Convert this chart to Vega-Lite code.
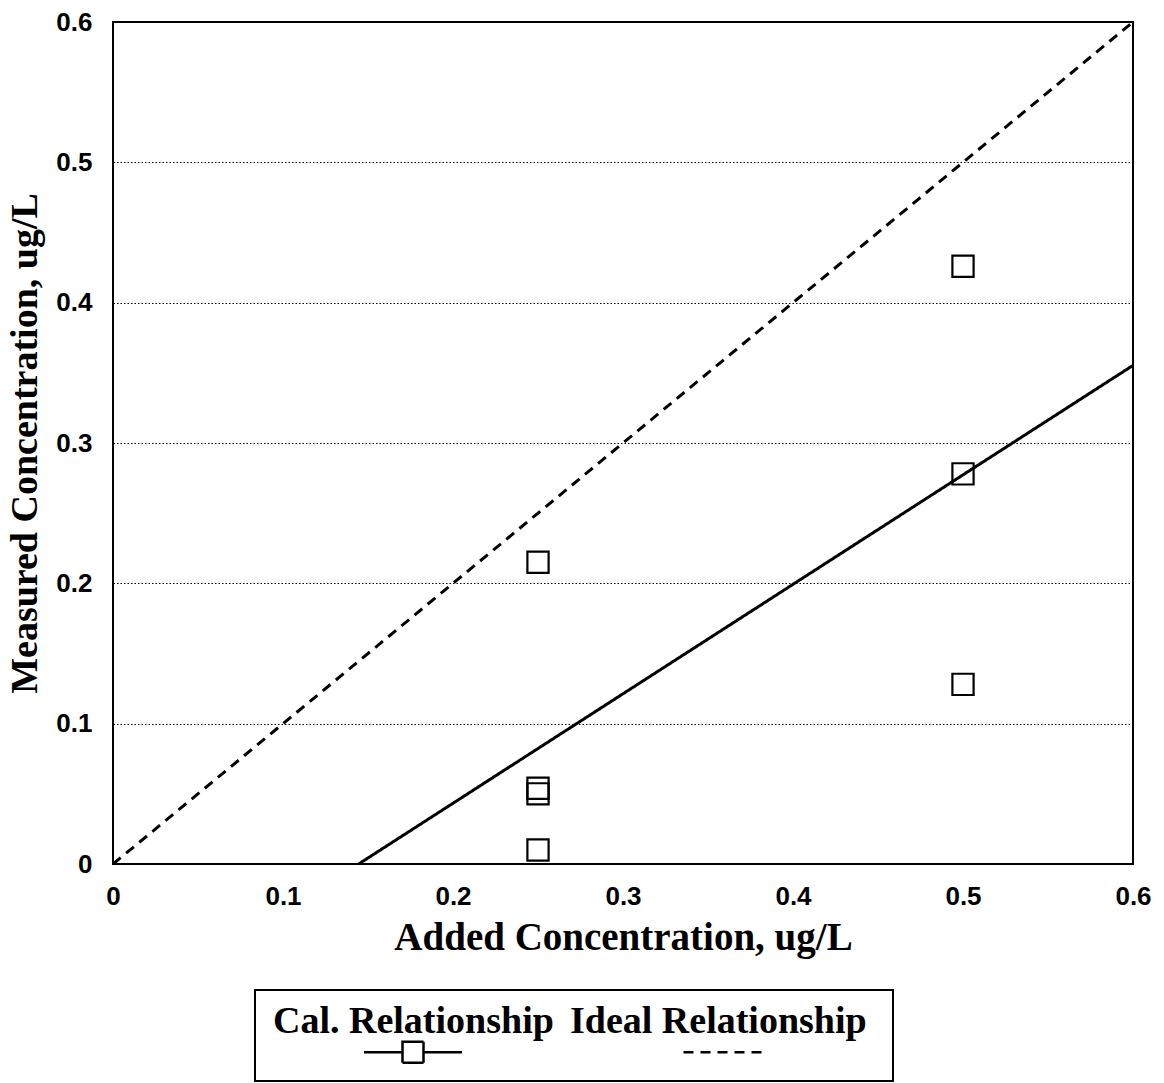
{
  "$schema": "https://vega.github.io/schema/vega-lite/v6.json",
  "width": 1020,
  "height": 842,
  "autosize": {"type": "none"},
  "padding": {"left": 113, "top": 22, "right": 31, "bottom": 219},
  "background": "white",
  "config": {
    "view": {"stroke": "black", "strokeWidth": 2},
    "axis": {
      "domain": false,
      "ticks": false,
      "labelFont": "Liberation Sans",
      "labelFontSize": 26,
      "labelFontWeight": "bold",
      "labelColor": "black",
      "labelFlush": false,
      "labelOverlap": false,
      "titleFont": "Liberation Serif",
      "titleFontWeight": "bold",
      "titleColor": "black",
      "gridColor": "black",
      "gridDash": [1.5, 2],
      "gridWidth": 1.2
    },
    "legend": {"strokeWidth": 2}
  },
  "datasets": {
    "relationship_lines": [
      {"series": "Cal. Relationship", "added": 0.1445, "measured": 0},
      {"series": "Cal. Relationship", "added": 0.6, "measured": 0.3553},
      {"series": "Ideal Relationship", "added": 0, "measured": 0},
      {"series": "Ideal Relationship", "added": 0.6, "measured": 0.6}
    ],
    "calibration_samples": [
      {"added": 0.25, "measured": 0.215},
      {"added": 0.25, "measured": 0.054},
      {"added": 0.25, "measured": 0.05},
      {"added": 0.25, "measured": 0.01},
      {"added": 0.5, "measured": 0.426},
      {"added": 0.5, "measured": 0.278},
      {"added": 0.5, "measured": 0.128}
    ]
  },
  "layer": [
    {
      "data": {"name": "relationship_lines"},
      "mark": {"type": "line", "color": "black", "strokeWidth": 3},
      "encoding": {
        "x": {
          "field": "added",
          "type": "quantitative",
          "scale": {"domain": [0, 0.6], "nice": false, "zero": false},
          "axis": {
            "values": [0, 0.1, 0.2, 0.3, 0.4, 0.5, 0.6],
            "format": "~g",
            "grid": false,
            "labelPadding": 19,
            "titlePadding": 9,
            "titleFontSize": 39,
            "title": "Added Concentration, ug/L"
          }
        },
        "y": {
          "field": "measured",
          "type": "quantitative",
          "scale": {"domain": [0, 0.6], "nice": false, "zero": false},
          "axis": {
            "values": [0, 0.1, 0.2, 0.3, 0.4, 0.5, 0.6],
            "format": "~g",
            "grid": true,
            "labelPadding": 21,
            "titlePadding": 11,
            "titleFontSize": 38,
            "title": "Measured Concentration, ug/L"
          }
        },
        "strokeDash": {
          "field": "series",
          "type": "nominal",
          "scale": {
            "domain": ["Cal. Relationship", "Ideal Relationship"],
            "range": [[1, 0], [10, 7]]
          },
          "legend": {
            "title": null,
            "orient": "none",
            "legendX": 142,
            "legendY": 968,
            "direction": "horizontal",
            "strokeColor": "black",
            "padding": 13,
            "columnPadding": 11,
            "symbolSize": 400,
            "symbolStrokeWidth": 2.5,
            "symbolStrokeColor": "black",
            "symbolFillColor": "white",
            "symbolType": {"expr": "datum.value === 'Cal. Relationship' ? 'M7.7,3.0H11.55M13.65,3.0H17.5M11.55,1.95H13.65V4.05H11.55Z' : 'M14.1,1.95M14.1,4.05M9.95,3.0H18.25M29.1,3.0'"},
            "labelFont": "Liberation Serif",
            "labelFontSize": 38,
            "labelFontWeight": "bold",
            "labelColor": "black",
            "labelLimit": 0,
            "labelOffset": -33
          }
        }
      }
    },
    {
      "data": {"name": "calibration_samples"},
      "mark": {
        "type": "point",
        "shape": "square",
        "filled": false,
        "color": "black",
        "size": 450,
        "strokeWidth": 2.2,
        "opacity": 1
      },
      "encoding": {
        "x": {"field": "added", "type": "quantitative"},
        "y": {"field": "measured", "type": "quantitative"}
      }
    }
  ]
}
